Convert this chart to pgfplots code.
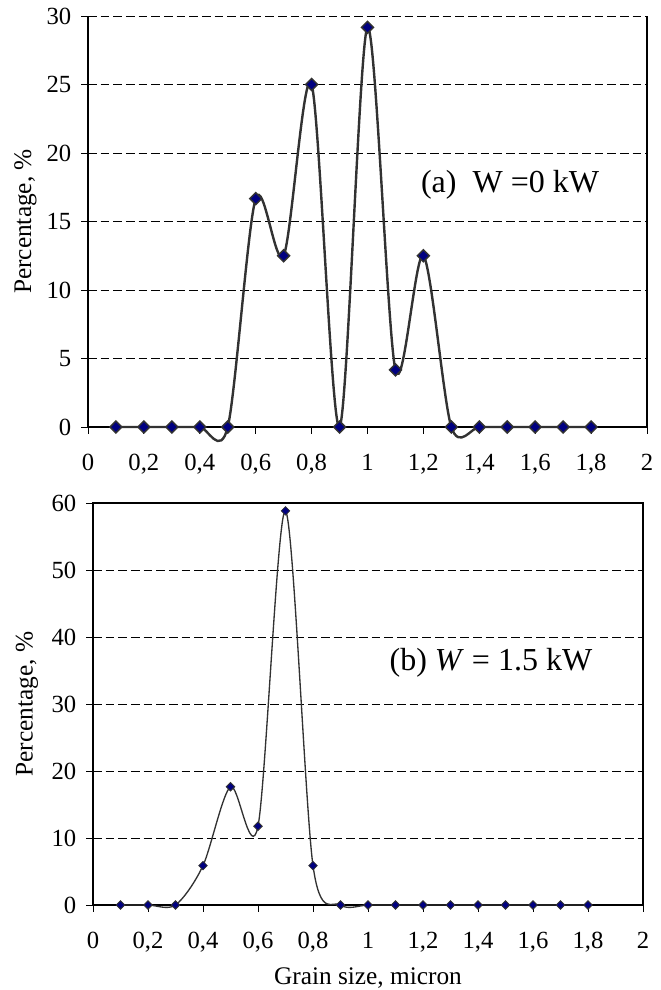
\documentclass[border=0pt]{standalone}
\usepackage{fontspec}
\setmainfont{Liberation Serif}
\usepackage{pgfplots}
\pgfplotsset{compat=1.18}

\definecolor{markblue}{RGB}{0,0,128}
\definecolor{curvegray}{RGB}{50,50,50}

\pgfplotsset{
    grainaxis/.style={
        scale only axis,
        xmin=0, xmax=2,
        ymin=0,
        xtick={0,0.2,0.4,0.6,0.8,1,1.2,1.4,1.6,1.8,2},
        xtick pos=lower, ytick pos=left,
        tick align=outside,
        major tick length=5pt,
        tick style={black, line width=0.6pt},
        /pgf/number format/assume math mode=true,
        /pgf/number format/use comma,
        ticklabel style={font=\fontsize{18.5}{20}\selectfont},
        xticklabel style={yshift=-12pt},
        yticklabel style={xshift=-4pt},
        ymajorgrids,
        grid style={black, line width=0.6pt, dash pattern=on 6.5pt off 3pt},
        axis line style={draw=none},
        clip=false,
    },
}

\begin{document}
\begin{tikzpicture}
\useasboundingbox (-66pt,12pt) rectangle (429.75pt,-730.5pt);

% ---------------- (a) W = 0 kW ----------------
\begin{axis}[
    grainaxis,
    at={(0pt,0pt)}, anchor=north west,
    width=419.25pt, height=308.25pt,
    ymax=30, ytick={0,5,10,15,20,25,30},
    ylabel={Percentage, \%},
    every axis y label/.style={at={(rel axis cs:-0.112,0.5)}, rotate=90, anchor=center,
        font=\fontsize{19}{21}\selectfont},
]
\draw[black, line width=0.8pt] (rel axis cs:0,1) -- (rel axis cs:0,0) -- (rel axis cs:1,0) -- (rel axis cs:1,1);

\addplot[
    smooth, color=curvegray, line width=1.8pt,
    mark=diamond*, mark size=4.5pt,
    mark options={fill=markblue, draw=curvegray, line width=1.1pt, solid, xscale=1.33},
] coordinates {
    (0.1,0) (0.2,0) (0.3,0) (0.4,0) (0.5,0)
    (0.6,16.67) (0.7,12.5) (0.8,25) (0.9,0)
    (1.0,29.17) (1.1,4.17) (1.2,12.5) (1.3,0)
    (1.4,0) (1.5,0) (1.6,0) (1.7,0) (1.8,0)
};

\node[font=\fontsize{24}{26}\selectfont] at (axis cs:1.51,17.7) {(a)\ \ W =0 kW};
\end{axis}

% ---------------- (b) W = 1.5 kW ----------------
\begin{axis}[
    grainaxis,
    at={(3.75pt,-365.25pt)}, anchor=north west,
    width=412.5pt, height=301.5pt,
    ymax=60, ytick={0,10,20,30,40,50,60},
    ylabel={Percentage, \%},
    xlabel={Grain size, micron},
    every axis y label/.style={at={(rel axis cs:-0.12,0.5)}, rotate=90, anchor=center,
        font=\fontsize{19}{21}\selectfont},
    every axis x label/.style={at={(rel axis cs:0.5,0)}, anchor=center, yshift=-54.75pt,
        font=\fontsize{19}{21}\selectfont},
]
\draw[black, line width=0.8pt] (rel axis cs:0,0) rectangle (rel axis cs:1,1);

\addplot[
    smooth, color=curvegray, line width=1pt,
    mark=diamond*, mark size=3.2pt,
    mark options={fill=markblue, draw=curvegray, line width=0.6pt, solid, xscale=1.33},
] coordinates {
    (0.1,0) (0.2,0) (0.3,0) (0.4,5.88) (0.5,17.65)
    (0.6,11.76) (0.7,58.82) (0.8,5.88) (0.9,0)
    (1.0,0) (1.1,0) (1.2,0) (1.3,0)
    (1.4,0) (1.5,0) (1.6,0) (1.7,0) (1.8,0)
};

\node[font=\fontsize{24}{26}\selectfont] at (axis cs:1.447,36.1) {(b) \textit{W} = 1.5 kW};
\end{axis}
\end{tikzpicture}
\end{document}
